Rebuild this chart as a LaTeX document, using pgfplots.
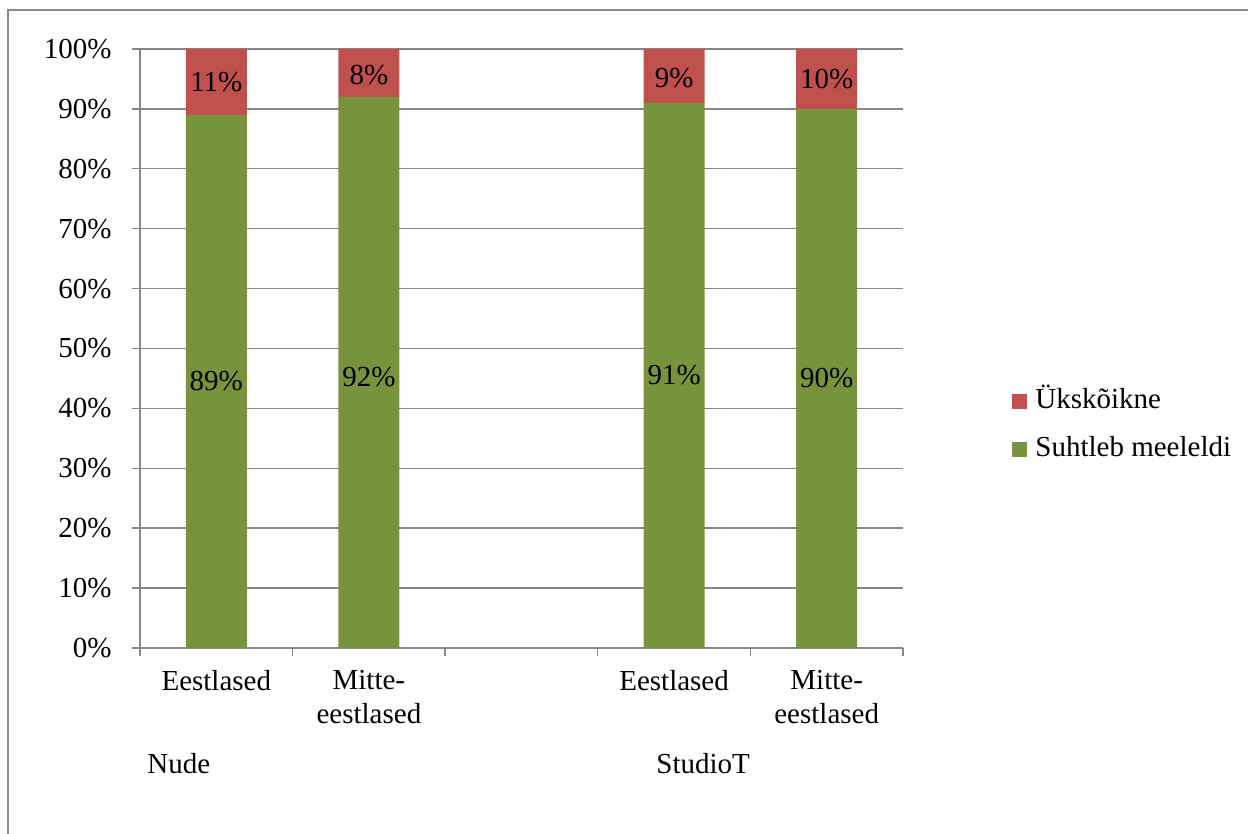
\documentclass[border=0pt]{standalone}
\usepackage{pgfplots}
\pgfplotsset{compat=1.18}
\usepackage{fontspec}
\setmainfont{Liberation Serif}
\definecolor{barred}{HTML}{C0504D}
\definecolor{bargreen}{HTML}{77933C}
\definecolor{gridgray}{HTML}{868686}
\definecolor{framegray}{HTML}{8A8A8A}
\newcommand{\chartfont}{\fontsize{14.5}{17}\selectfont}
\begin{document}
\begin{tikzpicture}[font=\chartfont]
\useasboundingbox (0,0) rectangle (624pt,417pt);
\draw[framegray, line width=1.2pt] (4pt,-2pt) -- (4pt,412pt) -- (630pt,412pt);
\pgfplotsset{
  base/.style={
    scale only axis, width=381.5pt, height=299.5pt,
    at={(70pt,93pt)}, anchor=south west,
    xmin=-0.5, xmax=4.5, ymin=0, ymax=100,
  }
}
\begin{axis}[base,
  ybar stacked, bar width=30.5pt,
  axis x line*=bottom, axis y line*=left,
  axis line style={gridgray, line width=0.7pt, -},
  ymajorgrids, major grid style={gridgray, line width=0.7pt},
  ytick={0,10,...,100},
  yticklabels={0\%,10\%,20\%,30\%,40\%,50\%,60\%,70\%,80\%,90\%,100\%},
  yticklabel style={anchor=east, inner sep=0pt, xshift=-10pt, font=\chartfont},
  xtick={-0.5,0.5,1.5,2.5,3.5,4.5}, xticklabels={},
  extra x ticks={0,1,2,3,4},
  extra x tick labels={Eestlased, {Mitte-\\eestlased}, {}, Eestlased, {Mitte-\\eestlased}},
  extra x tick style={major tick length=0pt, xticklabel style={align=center, anchor=north, inner sep=0pt, yshift=-11pt, font=\chartfont}},
  tick align=outside, major tick length=4pt,
  tick style={gridgray, line width=0.7pt},
  legend style={draw=none, fill=none, at={(1.1429,0.3706)}, anchor=west, inner sep=0pt, row sep=11pt, column sep=4pt, font=\chartfont, nodes={inner sep=0pt, text height=10pt, text depth=3pt}},
  legend cell align=left,
  reverse legend,
  legend image code/.code={\fill[#1] (0pt,-3.75pt) rectangle (7.5pt,3.75pt);},
]
\addplot[fill=bargreen, draw=none] coordinates {(0,89) (1,92) (3,91) (4,90)};
\addplot[fill=barred, draw=none] coordinates {(0,11) (1,8) (3,9) (4,10)};
\legend{Suhtleb meeleldi, Ükskõikne}
\end{axis}
\begin{axis}[base, hide axis]
\addplot[draw=none, mark=none, nodes near coords, point meta=explicit symbolic,
  every node near coord/.append style={anchor=center, inner sep=0pt, font=\chartfont, text=black}]
  coordinates {(0,44.5)[89\%] (1,45.3)[92\%] (3,45.5)[91\%] (4,45)[90\%]
               (0,94.5)[11\%] (1,95.7)[8\%] (3,95.2)[9\%] (4,95)[10\%]};
\end{axis}
\node[anchor=base west, inner sep=0pt] at (73.5pt,30pt) {Nude};
\node[anchor=base west, inner sep=0pt] at (328pt,30pt) {StudioT};
\end{tikzpicture}
\end{document}
